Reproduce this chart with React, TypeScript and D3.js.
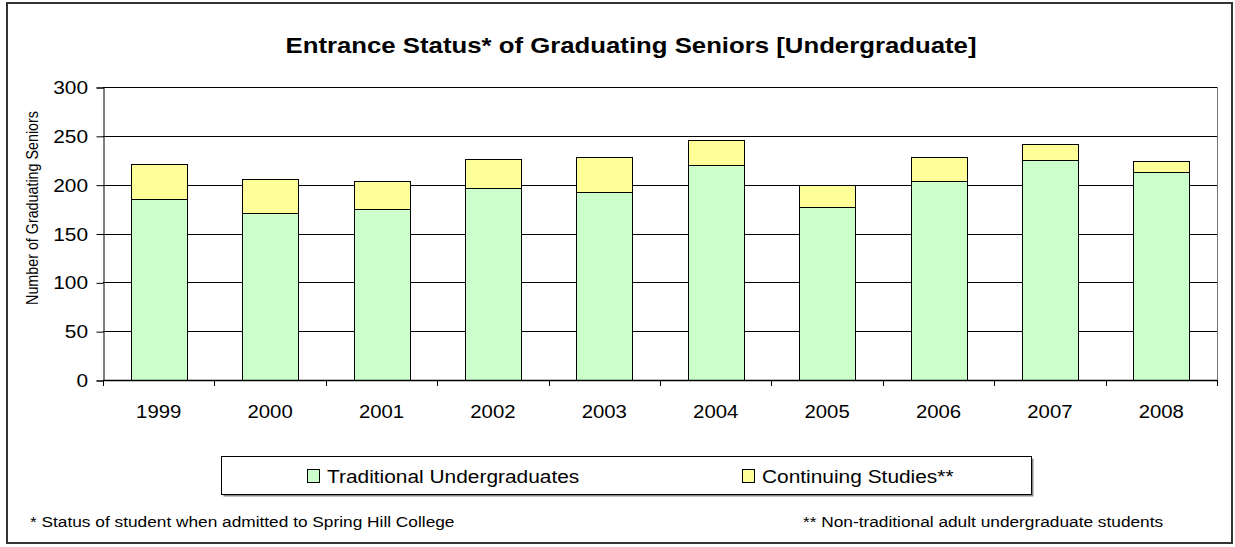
import React, { useRef, useEffect } from 'react';
import * as d3 from 'd3';

const years = ['1999', '2000', '2001', '2002', '2003', '2004', '2005', '2006', '2007', '2008'];
const traditional = [185, 171, 175, 197, 193, 220, 177, 204, 225, 213];
const continuing = [36, 35, 29, 29, 35, 26, 23, 24, 17, 11];
const yTicks = [0, 50, 100, 150, 200, 250, 300];
const seriesNames = ['Traditional Undergraduates', 'Continuing Studies**'];
const seriesColors = ['#CCFFCC', '#FFFF99'];

const W = 1235;
const H = 547;
const FONT = '"Liberation Sans", Arial, sans-serif';
// the source picture is stretched sideways, so horizontal text is too
const STRETCH = 1.13;

const App = () => {
  const svgRef = useRef(null);

  useEffect(() => {
    const svg = d3.select(svgRef.current);
    svg.selectAll('*').remove();

    const label = (parent, x, y, str, size, anchor = 'start', weight = 'normal') =>
      parent
        .append('text')
        .attr('transform', `translate(${x},${y}) scale(${STRETCH},1)`)
        .attr('text-anchor', anchor)
        .style('font-family', FONT)
        .style('font-size', `${size}px`)
        .style('font-weight', weight)
        .attr('fill', '#000')
        .text(str);

    const left = 103;
    const right = 1217;
    const top = 87;
    const bottom = 380;

    const x = d3.scaleBand().domain(years).range([left, right]).paddingInner(0.5).paddingOuter(0.25);
    const y = d3.scaleLinear().domain([0, 300]).range([bottom, top]);

    // outer frame
    svg
      .append('rect')
      .attr('x', 7)
      .attr('y', 3)
      .attr('width', W - 10)
      .attr('height', H - 7)
      .attr('fill', '#fff')
      .attr('stroke', '#333')
      .attr('stroke-width', 2);

    label(svg, 631, 53, 'Entrance Status* of Graduating Seniors [Undergraduate]', 22.8, 'middle', 'bold');

    // gridlines
    svg
      .append('g')
      .selectAll('line')
      .data(yTicks.slice(1))
      .join('line')
      .attr('x1', left)
      .attr('x2', right)
      .attr('y1', (d) => Math.round(y(d)) + 0.5)
      .attr('y2', (d) => Math.round(y(d)) + 0.5)
      .attr('stroke', '#000')
      .attr('stroke-width', 1);

    svg
      .append('line')
      .attr('x1', right + 0.5)
      .attr('x2', right + 0.5)
      .attr('y1', top)
      .attr('y2', bottom)
      .attr('stroke', '#777');

    const stack = d3.stack().keys(['t', 'c'])(
      // @ts-ignore
      years.map((yr, i) => ({ year: yr, t: traditional[i], c: continuing[i] }))
    );

    stack.forEach((layer, li) => {
      svg
        .append('g')
        .selectAll('rect')
        .data(layer)
        .join('rect')
        // @ts-ignore
        .attr('x', (d) => Math.round(x(d.data.year)) + 0.5)
        .attr('y', (d) => Math.round(y(d[1])) + 0.5)
        .attr('width', Math.round(x.bandwidth()))
        .attr('height', (d) => Math.round(y(d[0])) - Math.round(y(d[1])))
        .attr('fill', seriesColors[li])
        .attr('stroke', '#000')
        .attr('stroke-width', 1);
    });

    // y axis
    const yAxis = d3.axisLeft(y).tickValues(yTicks).tickSize(7).tickFormat(() => '');
    const yg = svg.append('g').attr('transform', `translate(${left + 0.5},0.5)`).call(yAxis);
    yg.select('.domain').attr('stroke', '#000');
    yg.selectAll('line').attr('stroke', '#000');
    yTicks.forEach((t) => label(svg, 88, Math.round(y(t)) + 7, String(t), 18.5, 'end'));

    // x axis
    const bounds = d3.range(years.length + 1).map((i) => left + (i * (right - left)) / years.length);
    const xg = svg.append('g');
    xg.append('line')
      .attr('x1', left)
      .attr('x2', right)
      .attr('y1', bottom + 0.5)
      .attr('y2', bottom + 0.5)
      .attr('stroke', '#000')
      .attr('stroke-width', 1.5);
    xg.selectAll('.tick')
      .data(bounds)
      .join('line')
      .attr('x1', (d) => Math.round(d) + 0.5)
      .attr('x2', (d) => Math.round(d) + 0.5)
      .attr('y1', bottom)
      .attr('y2', bottom + 6)
      .attr('stroke', '#000');
    // @ts-ignore
    years.forEach((yr) => label(xg, x(yr) + x.bandwidth() / 2, 418, yr, 18, 'middle'));

    svg
      .append('text')
      .attr('transform', `translate(38,208) scale(${STRETCH},1) rotate(-90)`)
      .attr('text-anchor', 'middle')
      .style('font-family', FONT)
      .style('font-size', '14.3px')
      .text('Number of Graduating Seniors');

    // legend
    const lg = svg.append('g');
    lg.append('rect')
      .attr('x', 223.5)
      .attr('y', 458.5)
      .attr('width', 810)
      .attr('height', 38)
      .attr('fill', '#888');
    lg.append('rect')
      .attr('x', 221.5)
      .attr('y', 456.5)
      .attr('width', 810)
      .attr('height', 38)
      .attr('fill', '#fff')
      .attr('stroke', '#000');
    const legendX = [307, 742];
    seriesNames.forEach((name, i) => {
      lg.append('rect')
        .attr('x', legendX[i] + 0.5)
        .attr('y', 469.5)
        .attr('width', 12)
        .attr('height', 13)
        .attr('fill', seriesColors[i])
        .attr('stroke', '#000');
      label(lg, legendX[i] + 20, 483, name, 18.5);
    });

    // footnotes
    label(svg, 30, 527, '* Status of student when admitted to Spring Hill College', 15.3);
    label(svg, 803, 527, '** Non-traditional adult undergraduate students', 15.3);
  }, []);

  return (
    <svg
      ref={svgRef}
      width={W}
      height={H}
      style={{ position: 'absolute', left: 0, top: 0, background: '#fff' }}
    />
  );
};

export default App;
